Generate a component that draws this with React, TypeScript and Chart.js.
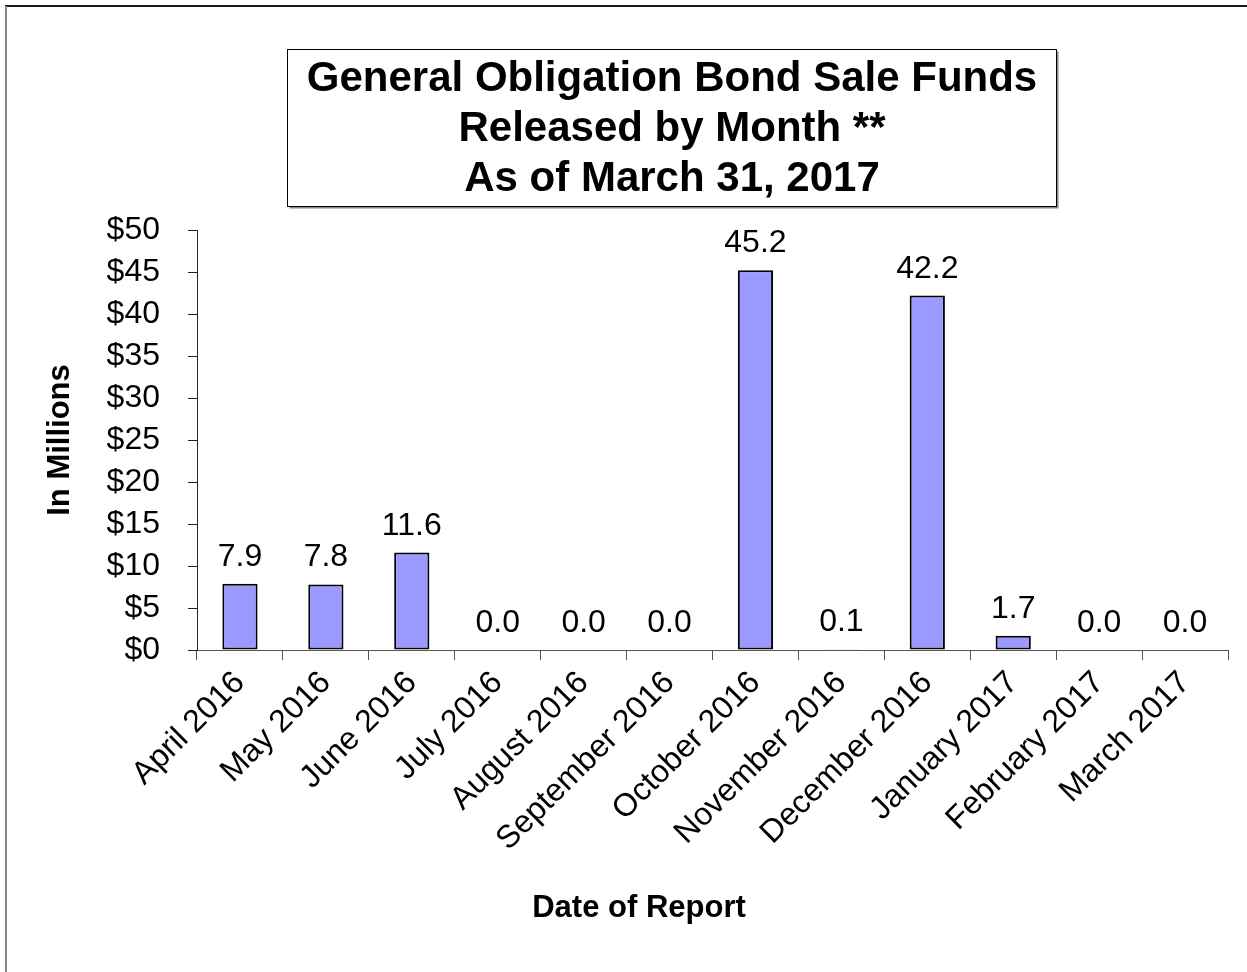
import React, { useEffect, useRef } from "react";
import { Chart, registerables } from "chart.js";

Chart.register(...registerables);

const categories = [
  "April 2016",
  "May 2016",
  "June 2016",
  "July 2016",
  "August 2016",
  "September 2016",
  "October 2016",
  "November 2016",
  "December 2016",
  "January 2017",
  "February 2017",
  "March 2017",
];
const fundsReleased = [7.9, 7.8, 11.6, 0.0, 0.0, 0.0, 45.2, 0.1, 42.2, 1.7, 0.0, 0.0];
const titleLines = ["General Obligation Bond Sale Funds", "Released by Month **", "As of March 31, 2017"];
const yAxisTitle = "In Millions";
const xAxisTitle = "Date of Report";
const yMin = 0;
const yMax = 50;
const yStep = 5;

const FONT = '"Liberation Sans", Arial, sans-serif';

const decorPlugin = {
  id: "decor",
  beforeDraw(chart: any) {
    const ctx = chart.ctx;
    ctx.save();
    ctx.fillStyle = "#ffffff";
    ctx.fillRect(0, 0, chart.width, chart.height);
    // outer frame (top and left visible)
    ctx.strokeStyle = "#1a1a1a";
    ctx.lineWidth = 2;
    ctx.beginPath();
    ctx.moveTo(5, 6);
    ctx.lineTo(chart.width, 6);
    ctx.stroke();
    ctx.strokeStyle = "#888888";
    ctx.beginPath();
    ctx.moveTo(6, 6);
    ctx.lineTo(6, chart.height);
    ctx.stroke();
    ctx.restore();
  },
  afterDraw(chart: any) {
    const ctx = chart.ctx;
    ctx.save();
    // title box with shadow
    const bx = 287.5, by = 49.5, bw = 769, bh = 157;
    ctx.strokeStyle = "#888888";
    ctx.lineWidth = 2;
    ctx.beginPath();
    ctx.moveTo(bx + bw + 1, by + 2);
    ctx.lineTo(bx + bw + 1, by + bh + 1);
    ctx.lineTo(bx + 2, by + bh + 1);
    ctx.stroke();
    ctx.fillStyle = "#ffffff";
    ctx.fillRect(bx, by, bw, bh);
    ctx.strokeStyle = "#000000";
    ctx.lineWidth = 1;
    ctx.strokeRect(bx, by, bw, bh);
    ctx.fillStyle = "#000000";
    ctx.font = `bold 42px ${FONT}`;
    ctx.textAlign = "center";
    ctx.textBaseline = "alphabetic";
    titleLines.forEach((line, i) => {
      ctx.fillText(line, bx + bw / 2, 91 + i * 50);
    });
    // x axis title
    ctx.font = `bold 31px ${FONT}`;
    ctx.textBaseline = "middle";
    ctx.fillText(xAxisTitle, 639, 908);
    ctx.restore();
  },
  afterDatasetsDraw(chart: any) {
    const ctx = chart.ctx;
    const meta = chart.getDatasetMeta(0);
    const data = chart.data.datasets[0].data;
    ctx.save();
    ctx.fillStyle = "#000000";
    ctx.font = `32px ${FONT}`;
    ctx.textAlign = "center";
    ctx.textBaseline = "alphabetic";
    meta.data.forEach((bar: any, i: number) => {
      ctx.fillText(Number(data[i]).toFixed(1), bar.x, bar.y - 18);
    });
    ctx.restore();
  },
};

export default function App() {
  const ref = useRef<HTMLCanvasElement | null>(null);
  useEffect(() => {
    if (!ref.current) return;
    const chart = new Chart(ref.current, {
      type: "bar",
      data: {
        labels: categories,
        datasets: [
          {
            data: fundsReleased,
            backgroundColor: "#9999FF",
            borderColor: "#000000",
            borderWidth: 2,
            borderSkipped: false,
            barPercentage: 0.41,
            categoryPercentage: 1,
          },
        ],
      },
      options: {
        animation: false,
        responsive: false,
        devicePixelRatio: 1,
        layout: { padding: { left: 20, right: 19, top: 230, bottom: 40 } },
        plugins: {
          legend: { display: false },
          tooltip: { enabled: false },
          title: { display: false },
        },
        scales: {
          x: {
            offset: true,
            grid: {
              offset: true,
              drawOnChartArea: false,
              drawTicks: true,
              tickLength: 10,
              color: "#555555",
            },
            border: { display: true, color: "#555555", width: 1 },
            ticks: {
              autoSkip: false,
              maxRotation: 45,
              minRotation: 45,
              color: "#000000",
              font: { family: FONT, size: 32 },
              padding: 4,
            },
            afterFit: (scale: any) => {
              scale.height = 282;
            },
          },
          y: {
            min: yMin,
            max: yMax,
            grid: {
              drawOnChartArea: false,
              drawTicks: true,
              tickLength: 9,
              color: "#222222",
            },
            border: { display: true, color: "#222222", width: 1 },
            ticks: {
              stepSize: yStep,
              color: "#000000",
              padding: 28,
              font: { family: FONT, size: 32 },
              callback: (v: any) => "$" + v,
            },
            title: {
              display: true,
              text: yAxisTitle,
              color: "#000000",
              font: { family: FONT, size: 31, weight: "bold" },
              padding: { top: 22, bottom: 0 },
            },
            afterFit: (scale: any) => {
              scale.width = 177;
            },
          },
        },
      },
      plugins: [decorPlugin],
    });
    return () => chart.destroy();
  }, []);
  return (
    <div style={{ position: "absolute", left: 0, top: 0, width: 1247, height: 972 }}>
      <canvas ref={ref} width={1247} height={972} style={{ display: "block" }} />
    </div>
  );
}
